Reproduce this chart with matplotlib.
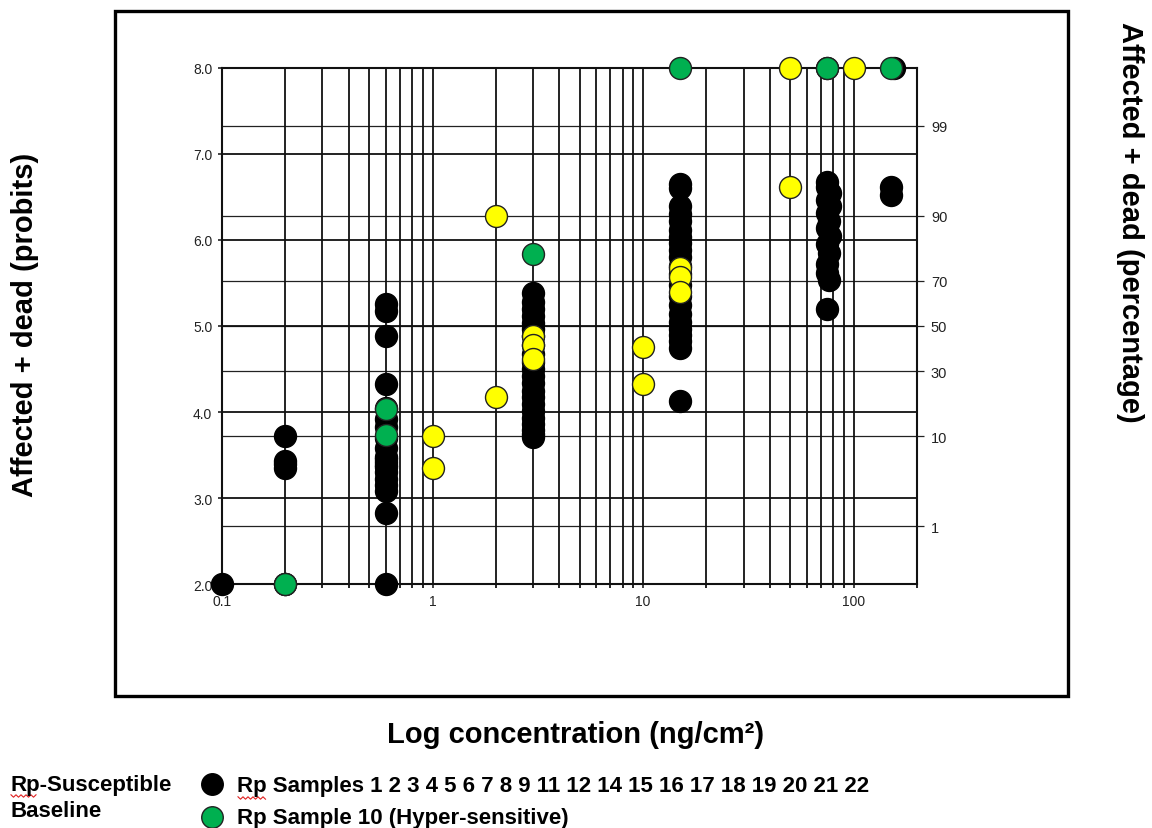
"""
Probit plot of affected + dead vs log concentration for Rp samples.
"""
from statistics import NormalDist

import matplotlib.pyplot as plt
from matplotlib.patches import Rectangle
from matplotlib.lines import Line2D
import numpy as np

plt.rcParams['font.family'] = ['Liberation Sans', 'DejaVu Sans']

# Rp samples 1-9, 11-22 (black)
black_conc = [0.1, 0.2, 0.2, 0.2, 0.2, 0.2,
              0.6, 0.6, 0.6, 0.6, 0.6, 0.6, 0.6, 0.6, 0.6, 0.6, 0.6, 0.6, 0.6,
              0.6, 0.6, 0.6, 0.6, 0.6, 0.6, 0.6,
              3, 3, 3, 3, 3, 3, 3, 3, 3, 3, 3, 3, 3, 3, 3, 3, 3, 3, 3, 3, 3, 3,
              15, 15, 15, 15, 15, 15, 15, 15, 15, 15, 15, 15, 15, 15, 15, 15,
              15, 15, 15, 15, 15, 15,
              75, 75, 77, 75, 77, 75, 76, 75, 77, 75, 76, 75, 75, 76, 75, 75,
              155, 150, 150]
black_probit = [2.0, 3.72, 3.43, 3.40, 3.35, 2.0,
                5.26, 5.17, 4.88, 4.33, 4.05, 3.92, 3.82, 3.70, 3.58, 3.48,
                3.42, 3.36, 3.30, 3.22, 3.15, 3.08, 2.82, 2.0, 3.45, 3.38,
                5.38, 5.28, 5.20, 5.12, 5.04, 4.96, 4.88, 4.78, 4.68, 4.58,
                4.50, 4.42, 4.34, 4.25, 4.17, 4.09, 4.01, 3.93, 3.86, 3.79,
                3.74, 3.71,
                6.65, 6.60, 6.40, 6.22, 6.12, 6.04, 5.96, 5.88, 5.80, 5.70,
                5.60, 5.48, 5.35, 5.24, 5.14, 5.05, 4.97, 4.90, 4.82, 4.75,
                4.13, 6.30,
                6.68, 6.62, 6.55, 6.47, 6.40, 6.31, 6.22, 6.14, 6.05, 5.95,
                5.85, 5.72, 5.62, 5.54, 5.20, 8.0,
                8.0, 6.62, 6.52]

# Other samples (yellow)
yellow_conc = [0.2, 1, 1, 2, 2, 3, 3, 3, 10, 10, 15, 15, 15, 50, 50, 100]
yellow_probit = [2.0, 3.72, 3.35, 6.28, 4.17, 4.88, 4.78, 4.62, 4.76, 4.33,
                 5.68, 5.57, 5.40, 8.0, 6.62, 8.0]

# Rp sample 10, hyper-sensitive (green)
green_conc = [0.2, 0.6, 0.6, 3, 15, 75, 150]
green_probit = [2.0, 4.03, 3.73, 5.84, 8.0, 8.0, 8.0]

probit_ticks = [2.0, 3.0, 4.0, 5.0, 6.0, 7.0, 8.0]
pct_ticks = [1, 10, 30, 50, 70, 90, 99]
conc_ticks = [0.1, 1, 10, 100]

YELLOW = '#ffff00'
GREEN = '#00b050'
W, H = 1152, 829

fig = plt.figure(figsize=(11.52, 8.29), dpi=100)
ax = fig.add_axes([0.1927, 0.2943, 0.6033, 0.6225])

pct_probits = [5 + NormalDist().inv_cdf(p / 100) for p in pct_ticks]

ax.set_xscale('log')
ax.set_xlim(0.1, 200)
ax.set_ylim(2.0, 8.0)

# grid: log vertical lines + probit and percentage horizontals
ax.grid(True, which='both', axis='x', color='#111111', linewidth=1.3, zorder=0)
ax.grid(True, which='major', axis='y', color='#111111', linewidth=1.3, zorder=0)
for yp in pct_probits:
    ax.axhline(yp, color='#222222', linewidth=0.9, zorder=0)

ax.scatter(black_conc, black_probit, s=250, c='black', edgecolors='black',
           linewidths=1, zorder=3, clip_on=False)
ax.scatter(yellow_conc, yellow_probit, s=250, c=YELLOW, edgecolors='#222222',
           linewidths=1, zorder=4, clip_on=False)
ax.scatter(green_conc, green_probit, s=250, c=GREEN, edgecolors='#222222',
           linewidths=1, zorder=5, clip_on=False)

ax.set_yticks(probit_ticks)
ax.set_yticklabels([f'{v:.1f}' for v in probit_ticks])
ax.set_xticks(conc_ticks)
ax.set_xticklabels(['0.1', '1', '10', '100'])
ax.xaxis.set_minor_formatter(plt.NullFormatter())
ax.tick_params(axis='both', which='major', labelsize=10, length=3,
               width=1.2, pad=4, colors='#222222')
ax.tick_params(axis='x', which='minor', length=3, width=1.2)
for sp in ax.spines.values():
    sp.set_linewidth(1.5)
    sp.set_color('#111111')

ax2 = ax.twinx()
ax2.set_ylim(2.0, 8.0)
ax2.set_yticks(pct_probits)
ax2.set_yticklabels([str(p) for p in pct_ticks])
ax2.tick_params(axis='y', labelsize=10.5, length=5, width=0.9, pad=5,
                colors='#222222')
for sp in ax2.spines.values():
    sp.set_visible(False)

# outer frame
fig.patches.append(Rectangle((0.0998, 0.1592), 0.8273, 0.8263,
                             transform=fig.transFigure, fill=False,
                             edgecolor='black', linewidth=2.4))

fig.text(0.022, 0.608, 'Affected + dead (probits)', rotation=90,
         ha='center', va='center', fontsize=21, fontweight='bold')
fig.text(0.981, 0.732, 'Affected + dead (percentage)', rotation=-90,
         ha='center', va='center', fontsize=21, fontweight='bold')
fig.text(0.5, 0.113, 'Log concentration (ng/cm²)',
         ha='center', va='center', fontsize=21, fontweight='bold')

# legend block
fig.text(0.009, 0.053, 'Rp-Susceptible', ha='left', va='center',
         fontsize=16, fontweight='bold')
fig.text(0.009, 0.021, 'Baseline', ha='left', va='center',
         fontsize=16, fontweight='bold')
fig.lines.append(Line2D([0.184], [0.053], transform=fig.transFigure,
                        marker='o', markersize=15.5, color='black',
                        markeredgecolor='black'))
fig.lines.append(Line2D([0.184], [0.0133], transform=fig.transFigure,
                        marker='o', markersize=15.5, color=GREEN,
                        markeredgecolor='#222222'))
fig.text(0.2057, 0.051,
         'Rp Samples 1 2 3 4 5 6 7 8 9 11 12 14 15 16 17 18 19 20 21 22',
         ha='left', va='center', fontsize=16, fontweight='bold')
fig.text(0.2057, 0.0125, 'Rp Sample 10 (Hyper-sensitive)',
         ha='left', va='center', fontsize=16, fontweight='bold')

# spell-check squiggles under "Rp"
for x0, x1, yb in [(11, 37, 797), (238, 266, 799)]:
    zx = np.arange(x0, x1 + 1, 2.5)
    zy = yb + np.where(np.arange(len(zx)) % 2 == 0, -1.2, 1.2)
    fig.lines.append(Line2D(zx / W, 1 - zy / H, transform=fig.transFigure,
                            color='#e02020', linewidth=0.8))

fig.savefig('out.png', dpi=100)
